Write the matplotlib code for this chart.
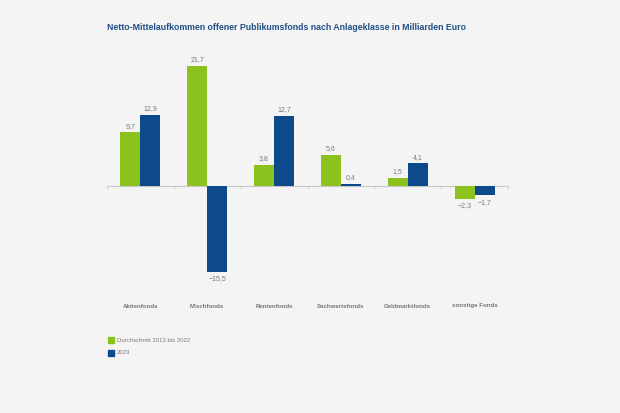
import matplotlib.pyplot as plt
import numpy as np

plt.rcParams['font.family'] = ['Liberation Sans', 'DejaVu Sans']

categories = ['Aktienfonds', 'Mischfonds', 'Rentenfonds', 'Sachwertefonds',
              'Geldmarktfonds', 'sonstige Fonds']
avg_2013_2022 = [9.7, 21.7, 3.8, 5.6, 1.5, -2.3]
year_2023 = [12.9, -15.5, 12.7, 0.4, 4.1, -1.7]
series_names = ['Durchschnitt 2013 bis 2022', '2023']

green = '#8cc21e'
blue = '#0c4a8b'
grey = '#7a7a7a'
bg = '#f4f4f4'

W, H = 620, 413
fig = plt.figure(figsize=(6.2, 4.13), dpi=100, facecolor=bg)
ax = fig.add_axes([107 / W, 1 - 290 / H, 401 / W, 230 / H], facecolor=bg)

x = np.arange(len(categories))
bw = 0.3
b1 = ax.bar(x - bw / 2, avg_2013_2022, bw, color=green, zorder=2)
b2 = ax.bar(x + bw / 2, year_2023, bw, color=blue, zorder=2)

def fmt(v):
    s = f'{abs(v):.1f}'.replace('.', ',')
    return ('\u2212' if v < 0 else '') + s

for bars, vals in [(b1, avg_2013_2022), (b2, year_2023)]:
    for rect, v in zip(bars, vals):
        cx = rect.get_x() + rect.get_width() / 2
        if v >= 0:
            ax.annotate(fmt(v), (cx, v), xytext=(0, 2), textcoords='offset points',
                        ha='center', va='bottom', fontsize=5, color=grey)
        else:
            ax.annotate(fmt(v), (cx, v), xytext=(0, -2.5), textcoords='offset points',
                        ha='center', va='top', fontsize=5, color=grey)

ax.set_xlim(-0.5, len(categories) - 0.5)
ax.set_ylim(-(290 - 186) / 5.53, (186 - 60) / 5.53)
ax.axhline(0, color='#c8c8c8', lw=0.8, zorder=1)
for b in np.arange(-0.5, len(categories), 1.0):
    ax.plot([b, b], [0, -0.45], color='#c8c8c8', lw=0.8, zorder=1, clip_on=False)

for s in ax.spines.values():
    s.set_visible(False)
ax.set_xticks([])
ax.set_yticks([])

for xi, c in zip(x, categories):
    ax.text(xi, -(306 - 186) / 5.53, c, ha='center', va='center', fontsize=4.4,
            fontweight='bold', color='#777777', clip_on=False)

fig.text(107 / W, 1 - 27 / H,
         'Netto-Mittelaufkommen offener Publikumsfonds nach Anlageklasse in Milliarden Euro',
         fontsize=6.35, fontweight='bold', color='#1f4f86', va='center', ha='left')

for i, (name, col) in enumerate(zip(series_names, [green, blue])):
    y = 340 + i * 12.5
    fig.patches.append(plt.Rectangle((108 / W, 1 - (y + 3) / H), 6 / W, 6 / H,
                                     transform=fig.transFigure, color=col))
    fig.text(117 / W, 1 - y / H, name, fontsize=4.3, color=grey, va='center', ha='left')

fig.savefig('out.png', dpi=100, facecolor=bg)
